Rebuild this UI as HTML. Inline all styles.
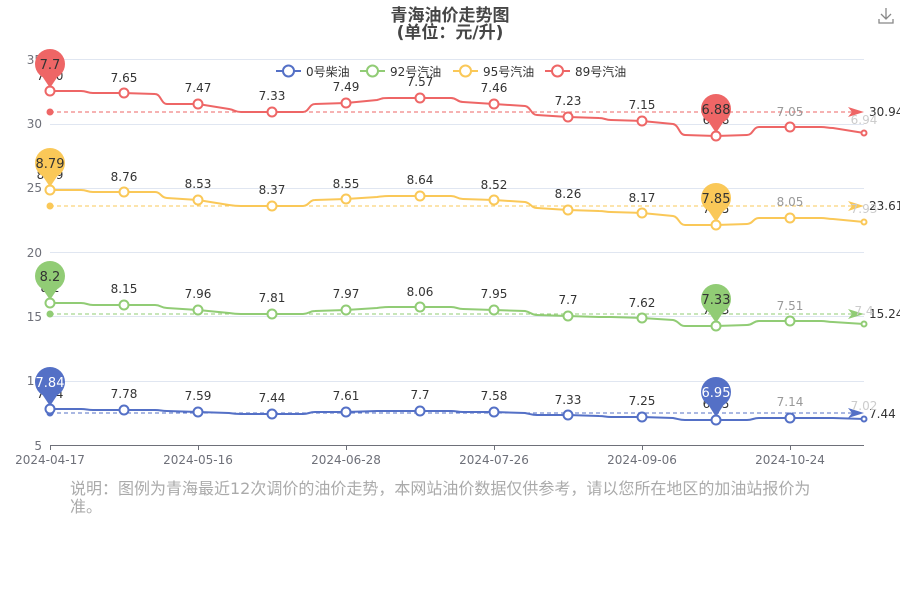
<!DOCTYPE html>
<html><head><meta charset="utf-8"><style>
body{margin:0;background:#fff;}
svg text{font-family:"DejaVu Sans","Noto Sans CJK SC",sans-serif;}
</style></head><body>
<svg width="900" height="600" viewBox="0 0 900 600" xmlns="http://www.w3.org/2000/svg">
<text x="450" y="21" text-anchor="middle" font-size="17" font-weight="bold" fill="#464646">青海油价走势图</text>
<text x="450" y="38" text-anchor="middle" font-size="17" font-weight="bold" fill="#464646">(单位：元/升)</text>
<g stroke="#888" fill="none" stroke-width="1.3"><path d="M886 8v11M881 14l5 5 5-5M879 19v4h14v-4"/></g>
<!-- grid -->
<g stroke="#e0e6f1" stroke-width="1">
<line x1="50" y1="59.5" x2="864" y2="59.5"/><line x1="50" y1="124.5" x2="864" y2="124.5"/>
<line x1="50" y1="188.5" x2="864" y2="188.5"/><line x1="50" y1="252.5" x2="864" y2="252.5"/>
<line x1="50" y1="316.5" x2="864" y2="316.5"/><line x1="50" y1="381.5" x2="864" y2="381.5"/>
</g>
<line x1="50" y1="445.5" x2="864" y2="445.5" stroke="#6e7079"/>
<g stroke="#6e7079"><line x1="50.5" y1="445" x2="50.5" y2="450"/><line x1="198.5" y1="445" x2="198.5" y2="450"/><line x1="346.5" y1="445" x2="346.5" y2="450"/><line x1="494.5" y1="445" x2="494.5" y2="450"/><line x1="642.5" y1="445" x2="642.5" y2="450"/><line x1="790.5" y1="445" x2="790.5" y2="450"/></g>
<g font-size="12" fill="#6e7079" text-anchor="end">
<text x="42" y="64">35</text><text x="42" y="128">30</text><text x="42" y="192">25</text><text x="42" y="257">20</text><text x="42" y="321">15</text><text x="42" y="385">10</text><text x="42" y="450">5</text>
</g>
<g font-size="12" fill="#6e7079" text-anchor="middle">
<text x="50" y="464">2024-04-17</text><text x="198" y="464">2024-05-16</text><text x="346" y="464">2024-06-28</text><text x="494" y="464">2024-07-26</text><text x="642" y="464">2024-09-06</text><text x="790" y="464">2024-10-24</text>
</g>
<!-- legend -->
<g font-size="12" fill="#333">
<line x1="276" y1="71" x2="301" y2="71" stroke="#5470c6" stroke-width="2"/><circle cx="288.5" cy="71" r="5.5" fill="#fff" stroke="#5470c6" stroke-width="2"/><text x="306" y="76">0号柴油</text>
<line x1="360" y1="71" x2="385" y2="71" stroke="#91cc75" stroke-width="2"/><circle cx="372.5" cy="71" r="5.5" fill="#fff" stroke="#91cc75" stroke-width="2"/><text x="390" y="76">92号汽油</text>
<line x1="453" y1="71" x2="478" y2="71" stroke="#fac858" stroke-width="2"/><circle cx="465.5" cy="71" r="5.5" fill="#fff" stroke="#fac858" stroke-width="2"/><text x="483" y="76">95号汽油</text>
<line x1="545" y1="71" x2="570" y2="71" stroke="#ee6666" stroke-width="2"/><circle cx="557.5" cy="71" r="5.5" fill="#fff" stroke="#ee6666" stroke-width="2"/><text x="575" y="76">89号汽油</text>
</g>
<!-- avg lines -->
<g stroke-dasharray="4,3" stroke-width="1">
<line x1="50" y1="112" x2="852" y2="112" stroke="#ee6666"/>
<line x1="50" y1="206" x2="852" y2="206" stroke="#fac858"/>
<line x1="50" y1="314" x2="852" y2="314" stroke="#91cc75"/>
<line x1="50" y1="413" x2="852" y2="413" stroke="#5470c6"/>
</g>
<polygon points="848,107 864,112 848,117 852,112" fill="#ee6666"/>
<polygon points="848,201 864,206 848,211 852,206" fill="#fac858"/>
<polygon points="848,309 864,314 848,319 852,314" fill="#91cc75"/>
<polygon points="848,408 864,413 848,418 852,413" fill="#5470c6"/>
<circle cx="50" cy="112" r="3.5" fill="#ee6666"/><circle cx="50" cy="206" r="3.5" fill="#fac858"/><circle cx="50" cy="314" r="3.5" fill="#91cc75"/><circle cx="50" cy="413" r="3.5" fill="#5470c6"/>
<g font-size="12" fill="#333"><text x="869" y="116">30.94</text><text x="869" y="210">23.61</text><text x="869" y="318">15.24</text><text x="869" y="418">7.44</text></g>
<!-- series -->
<g fill="none" stroke-width="2">
<path stroke="#ee6666" d="M50,91 L81,91 C87,91 87,93 93,93 L124,93 L155,94 C161,94 161,104 167,104 L198,104 L229,109 C235,110 235,112 241,112 L272,112 L303,112 C309,112 309,104 315,104 L346,103 L377,100 C383,98 383,98 389,98 L420,98 L451,98 C457,98 457,102 463,102 L494,104 L525,106 C531,107 531,115 537,115 L568,117 L599,118 C605,118 605,120 611,120 L642,121 L673,124 C679,125 679,135 685,135 L716,136 L747,135 C753,135 753,127 759,127 L790,127 L821,127 C827,127 827,128 833,128 L864,133"/>
<path stroke="#fac858" d="M50,190 L81,190 C87,190 87,192 93,192 L124,192 L155,192 C161,192 161,198 167,198 L198,200 L229,205 C235,206 235,206 241,206 L272,206 L303,206 C309,206 309,200 315,200 L346,199 L377,197 C383,196 383,196 389,196 L420,196 L451,196 C457,196 457,199 463,199 L494,200 L525,202 C531,203 531,208 537,208 L568,210 L599,211 C605,211 605,212 611,212 L642,213 L673,216 C679,217 679,225 685,225 L716,225 L747,224 C753,224 753,218 759,218 L790,218 L821,218 C827,218 827,219 833,219 L864,222"/>
<path stroke="#91cc75" d="M50,303 L81,303 C87,303 87,305 93,305 L124,305 L155,305 C161,305 161,308 167,308 L198,310 L229,313 C235,314 235,314 241,314 L272,314 L303,314 C309,314 309,311 315,311 L346,310 L377,308 C383,307 383,307 389,307 L420,307 L451,307 C457,307 457,309 463,309 L494,310 L525,311 C531,312 531,315 537,315 L568,316 L599,317 C605,317 605,317 611,317 L642,318 L673,320 C679,321 679,326 685,326 L716,326 L747,325 C753,325 753,321 759,321 L790,321 L821,321 C827,321 827,322 833,322 L864,324"/>
<path stroke="#5470c6" d="M50,409 L81,409 C87,409 87,410 93,410 L124,410 L155,410 C161,410 161,411 167,411 L198,412 L229,413 C235,414 235,414 241,414 L272,414 L303,414 C309,414 309,412 315,412 L346,412 L377,411 C383,411 383,411 389,411 L420,411 L451,411 C457,411 457,412 463,412 L494,412 L525,413 C531,414 531,415 537,415 L568,415 L599,416 C605,416 605,417 611,417 L642,417 L673,418 C679,419 679,420 685,420 L716,420 L747,420 C753,420 753,418 759,418 L790,418 L821,418 C827,418 827,418 833,418 L864,419"/>
</g>
<g fill="#fff" stroke-width="2">
<g stroke="#ee6666"><circle cx="50" cy="91" r="4.5"/><circle cx="124" cy="93" r="4.5"/><circle cx="198" cy="104" r="4.5"/><circle cx="272" cy="112" r="4.5"/><circle cx="346" cy="103" r="4.5"/><circle cx="420" cy="98" r="4.5"/><circle cx="494" cy="104" r="4.5"/><circle cx="568" cy="117" r="4.5"/><circle cx="642" cy="121" r="4.5"/><circle cx="716" cy="136" r="4.5"/><circle cx="790" cy="127" r="4.5"/><circle cx="864" cy="133" r="2.5"/></g>
<g stroke="#fac858"><circle cx="50" cy="190" r="4.5"/><circle cx="124" cy="192" r="4.5"/><circle cx="198" cy="200" r="4.5"/><circle cx="272" cy="206" r="4.5"/><circle cx="346" cy="199" r="4.5"/><circle cx="420" cy="196" r="4.5"/><circle cx="494" cy="200" r="4.5"/><circle cx="568" cy="210" r="4.5"/><circle cx="642" cy="213" r="4.5"/><circle cx="716" cy="225" r="4.5"/><circle cx="790" cy="218" r="4.5"/><circle cx="864" cy="222" r="2.5"/></g>
<g stroke="#91cc75"><circle cx="50" cy="303" r="4.5"/><circle cx="124" cy="305" r="4.5"/><circle cx="198" cy="310" r="4.5"/><circle cx="272" cy="314" r="4.5"/><circle cx="346" cy="310" r="4.5"/><circle cx="420" cy="307" r="4.5"/><circle cx="494" cy="310" r="4.5"/><circle cx="568" cy="316" r="4.5"/><circle cx="642" cy="318" r="4.5"/><circle cx="716" cy="326" r="4.5"/><circle cx="790" cy="321" r="4.5"/><circle cx="864" cy="324" r="2.5"/></g>
<g stroke="#5470c6"><circle cx="50" cy="409" r="4.5"/><circle cx="124" cy="410" r="4.5"/><circle cx="198" cy="412" r="4.5"/><circle cx="272" cy="414" r="4.5"/><circle cx="346" cy="412" r="4.5"/><circle cx="420" cy="411" r="4.5"/><circle cx="494" cy="412" r="4.5"/><circle cx="568" cy="415" r="4.5"/><circle cx="642" cy="417" r="4.5"/><circle cx="716" cy="420" r="4.5"/><circle cx="790" cy="418" r="4.5"/><circle cx="864" cy="419" r="2.5"/></g>
</g>
<!-- labels -->
<g font-size="12" fill="#333" text-anchor="middle">
<text x="50" y="80">7.70</text><text x="124" y="82">7.65</text><text x="198" y="92">7.47</text><text x="272" y="100">7.33</text><text x="346" y="91">7.49</text><text x="420" y="86">7.57</text><text x="494" y="92">7.46</text><text x="568" y="105">7.23</text><text x="642" y="109">7.15</text><text x="716" y="124">6.88</text><text x="790" y="116" fill="#999">7.05</text><text x="864" y="124" fill="#ccc">6.94</text>
<text x="50" y="179">8.79</text><text x="124" y="181">8.76</text><text x="198" y="188">8.53</text><text x="272" y="194">8.37</text><text x="346" y="188">8.55</text><text x="420" y="184">8.64</text><text x="494" y="189">8.52</text><text x="568" y="198">8.26</text><text x="642" y="202">8.17</text><text x="716" y="213">7.85</text><text x="790" y="206" fill="#999">8.05</text><text x="864" y="213" fill="#ccc">7.93</text>
<text x="50" y="292">8.2</text><text x="124" y="293">8.15</text><text x="198" y="298">7.96</text><text x="272" y="302">7.81</text><text x="346" y="298">7.97</text><text x="420" y="296">8.06</text><text x="494" y="298">7.95</text><text x="568" y="304">7.7</text><text x="642" y="307">7.62</text><text x="716" y="314">7.33</text><text x="790" y="310" fill="#999">7.51</text><text x="864" y="315" fill="#ccc">7.4</text>
<text x="50" y="398">7.84</text><text x="124" y="398">7.78</text><text x="198" y="400">7.59</text><text x="272" y="402">7.44</text><text x="346" y="400">7.61</text><text x="420" y="399">7.7</text><text x="494" y="400">7.58</text><text x="568" y="404">7.33</text><text x="642" y="405">7.25</text><text x="716" y="408">6.95</text><text x="790" y="406" fill="#999">7.14</text><text x="864" y="410" fill="#ccc">7.02</text>
</g>
<!-- pins -->
<g>
<circle cx="50" cy="64" r="15" fill="#ee6666"/><polygon points="40,73 60,73 50,88" fill="#ee6666"/>
<circle cx="716" cy="109" r="15" fill="#ee6666"/><polygon points="706,118 726,118 716,133" fill="#ee6666"/>
<circle cx="50" cy="163" r="15" fill="#fac858"/><polygon points="40,172 60,172 50,187" fill="#fac858"/>
<circle cx="716" cy="198" r="15" fill="#fac858"/><polygon points="706,207 726,207 716,222" fill="#fac858"/>
<circle cx="50" cy="276" r="15" fill="#91cc75"/><polygon points="40,285 60,285 50,300" fill="#91cc75"/>
<circle cx="716" cy="299" r="15" fill="#91cc75"/><polygon points="706,308 726,308 716,323" fill="#91cc75"/>
<circle cx="50" cy="382" r="15" fill="#5470c6"/><polygon points="40,391 60,391 50,406" fill="#5470c6"/>
<circle cx="716" cy="392" r="15" fill="#5470c6"/><polygon points="706,401 726,401 716,417" fill="#5470c6"/>
</g>
<g font-size="13" text-anchor="middle" fill="#333">
<text x="50" y="69">7.7</text><text x="716" y="114">6.88</text>
<text x="50" y="168">8.79</text><text x="716" y="203">7.85</text>
<text x="50" y="281">8.2</text><text x="716" y="304">7.33</text>
<text x="50" y="387" fill="#fff">7.84</text><text x="716" y="397" fill="#fff">6.95</text>
</g>
<g font-size="16" fill="#aaa">
<text x="70" y="494">说明：图例为青海最近12次调价的油价走势，本网站油价数据仅供参考，请以您所在地区的加油站报价为</text>
<text x="70" y="512">准。</text>
</g>
</svg>
</body></html>
